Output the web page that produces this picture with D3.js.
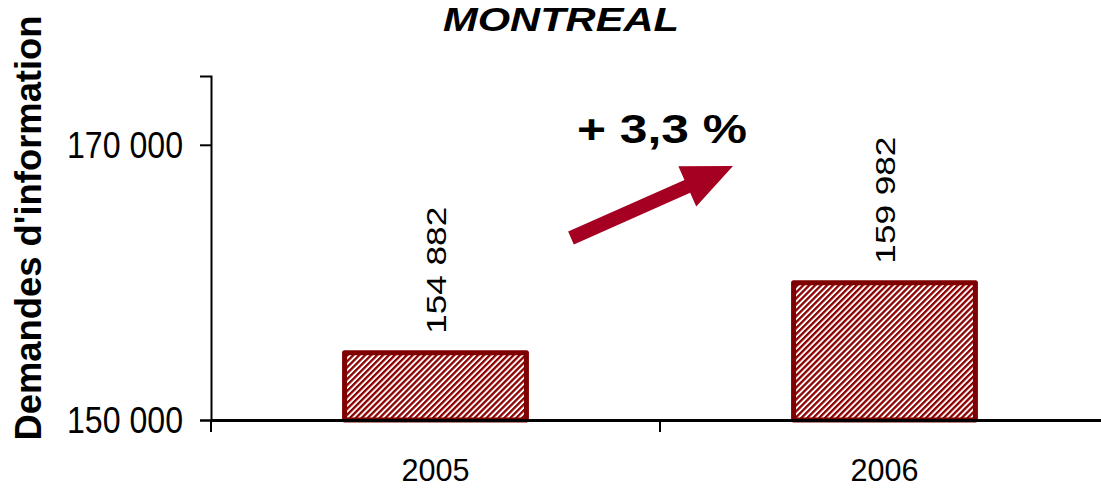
<!DOCTYPE html>
<html>
<head>
<meta charset="utf-8">
<script src="https://cdn.jsdelivr.net/npm/d3@7"></script>
<style>
  body { margin: 0; background: #fff; }
  svg { display: block; font-family: "Liberation Sans", Arial, sans-serif; }
</style>
</head>
<body>
<div class="chart"></div>
<script>
// data
const years = ["2005", "2006"];
const requests = [154882, 159982];
const yTicks = [150000, 170000];
const yDomain = [150000, 175000];
const changeLabel = "+ 3,3 %";

const W = 1101, H = 488;
const svg = d3.select(".chart").append("svg")
    .attr("width", W)
    .attr("height", H);

// hatch pattern for the bars
const defs = svg.append("defs");
const pat = defs.append("pattern")
    .attr("id", "hatch")
    .attr("patternUnits", "userSpaceOnUse")
    .attr("width", 4.2)
    .attr("height", 4.2)
    .attr("patternTransform", "rotate(45)");
pat.append("rect").attr("width", 4.2).attr("height", 4.2).attr("fill", "#ffffff");
pat.append("rect").attr("width", 2.3).attr("height", 4.2).attr("fill", "#8b0000");

const fmt = d3.formatLocale({ decimal: ",", thousands: " ", grouping: [3], currency: ["", ""] }).format(",d");

const x = d3.scaleBand()
    .domain(years)
    .range([211, 1109])
    .padding(0);

const y = d3.scaleLinear()
    .domain(yDomain)
    .range([420, 76]);

const barW = x.bandwidth() * 0.405;

// bars
svg.selectAll("rect.bar")
    .data(years)
    .join("rect")
    .attr("class", "bar")
    .attr("x", (d) => x(d) + (x.bandwidth() - barW) / 2)
    .attr("y", (d, i) => y(requests[i]))
    .attr("width", barW)
    .attr("height", (d, i) => y(yDomain[0]) - y(requests[i]))
    .attr("fill", "url(#hatch)")
    .attr("stroke", "#7f0000")
    .attr("stroke-width", 5)
    .attr("stroke-linejoin", "round");

// value labels, rotated
svg.selectAll("text.val")
    .data(years)
    .join("text")
    .attr("class", "val")
    .attr("transform", (d, i) => `translate(${x(d) + x.bandwidth() / 2 + 10},${y(requests[i]) - 19}) rotate(-90)`)
    .attr("font-size", 28)
    .attr("textLength", 127)
    .attr("lengthAdjust", "spacingAndGlyphs")
    .attr("fill", "#000")
    .text((d, i) => fmt(requests[i]));

// y axis
const yAxis = d3.axisLeft(y)
    .tickValues(yTicks)
    .tickSize(11)
    .tickPadding(17)
    .tickFormat(fmt);
const gy = svg.append("g")
    .attr("transform", "translate(211,0)")
    .call(yAxis);
gy.select(".domain").attr("stroke", "#000").attr("stroke-width", 2);
gy.selectAll(".tick line").attr("stroke", "#000").attr("stroke-width", 2);
gy.selectAll(".tick text")
    .attr("font-size", 36)
    .attr("dy", "0.36em")
    .attr("textLength", 116)
    .attr("lengthAdjust", "spacingAndGlyphs")
    .attr("font-family", "Liberation Sans, Arial, sans-serif")
    .attr("fill", "#000");
// extend axis a little below the baseline
gy.append("line")
    .attr("x1", 0).attr("x2", 0)
    .attr("y1", 420).attr("y2", 432)
    .attr("stroke", "#000").attr("stroke-width", 2);

// x axis
const xAxis = d3.axisBottom(x)
    .tickSize(0)
    .tickPadding(61);
const gx = svg.append("g")
    .attr("transform", `translate(0,${y(yDomain[0])})`)
    .call(xAxis);
gx.select(".domain").attr("stroke", "#000").attr("stroke-width", 3);
gx.selectAll(".tick text")
    .attr("dy", 0)
    .attr("font-size", 32)
    .attr("textLength", 68)
    .attr("lengthAdjust", "spacingAndGlyphs")
    .attr("font-family", "Liberation Sans, Arial, sans-serif")
    .attr("fill", "#000");
// category separator ticks
svg.selectAll("line.sep")
    .data(years.slice(1))
    .join("line")
    .attr("class", "sep")
    .attr("x1", (d) => x(d)).attr("x2", (d) => x(d))
    .attr("y1", 420).attr("y2", 432)
    .attr("stroke", "#000").attr("stroke-width", 2);

// title
svg.append("text")
    .attr("x", 561)
    .attr("y", 31)
    .attr("text-anchor", "middle")
    .attr("font-size", 34)
    .attr("font-weight", "bold")
    .attr("font-style", "italic")
    .attr("textLength", 236)
    .attr("lengthAdjust", "spacingAndGlyphs")
    .text("MONTREAL");

// y title
svg.append("text")
    .attr("transform", "translate(41,228) rotate(-90)")
    .attr("text-anchor", "middle")
    .attr("font-size", 36)
    .attr("font-weight", "bold")
    .attr("textLength", 425)
    .attr("lengthAdjust", "spacingAndGlyphs")
    .text("Demandes d'information");

// growth annotation
svg.append("text")
    .attr("x", 577)
    .attr("y", 143)
    .attr("font-size", 41)
    .attr("font-weight", "bold")
    .attr("textLength", 170)
    .attr("lengthAdjust", "spacingAndGlyphs")
    .attr("xml:space", "preserve")
    .text(changeLabel);

// arrow
const s = [571, 238], t = [733, 166];
const len = Math.hypot(t[0] - s[0], t[1] - s[1]);
const u = [(t[0] - s[0]) / len, (t[1] - s[1]) / len];
const n = [-u[1], u[0]];
const hw = 7, hl = 50, hh = 22;
const b = [t[0] - hl * u[0], t[1] - hl * u[1]];
const pt = (p, k) => [p[0] + k * n[0], p[1] + k * n[1]];
const arrow = [
    pt(s, hw), pt(b, hw), pt(b, hh), t, pt(b, -hh), pt(b, -hw), pt(s, -hw)
];
svg.append("path")
    .attr("d", d3.line()(arrow) + "Z")
    .attr("fill", "#a50021");
</script>
</body>
</html>
